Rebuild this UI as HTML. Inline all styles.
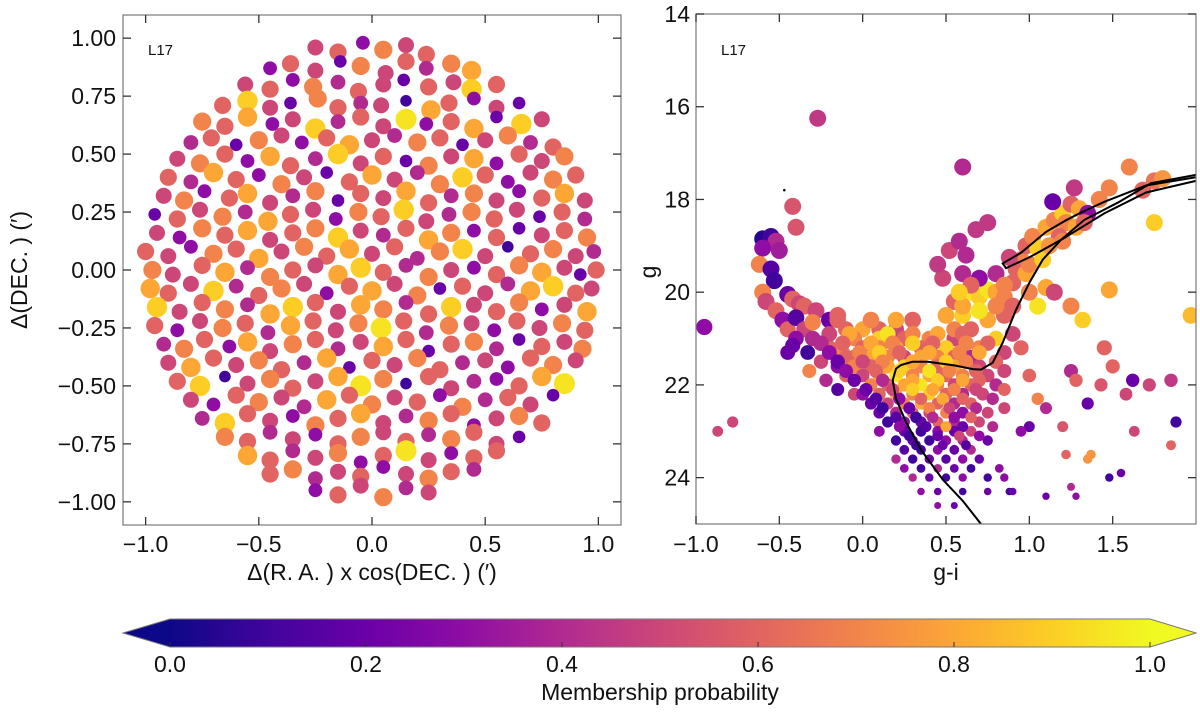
<!DOCTYPE html>
<html><head><meta charset="utf-8"><style>
html,body{margin:0;padding:0;background:#fff;}
svg{display:block;font-family:"Liberation Sans",sans-serif;}
</style></head><body>
<svg id="fig" width="1200" height="712" viewBox="0 0 1200 712" xmlns="http://www.w3.org/2000/svg">
<defs>
<linearGradient id="plasma" x1="0" x2="1" y1="0" y2="0">
<stop offset="0" stop-color="#0d0887"/><stop offset="0.1" stop-color="#41049d"/><stop offset="0.2" stop-color="#6a00a8"/><stop offset="0.3" stop-color="#8f0da4"/><stop offset="0.4" stop-color="#b12a90"/><stop offset="0.5" stop-color="#cc4778"/><stop offset="0.6" stop-color="#e16462"/><stop offset="0.7" stop-color="#f2844b"/><stop offset="0.8" stop-color="#fca636"/><stop offset="0.9" stop-color="#fcce25"/><stop offset="1" stop-color="#f0f921"/>
</linearGradient>
<clipPath id="clipL"><rect x="123" y="15" width="498" height="510"/></clipPath>
<clipPath id="clipR"><rect x="696" y="14" width="500" height="510"/></clipPath>
</defs>
<g id="left"></g>
<g id="right"></g>
<g id="cbar"></g>
</svg>
<script>
// ---------- Left panel data (RA offset, DEC offset, membership probability) ----------
const raOff = [
-.25,-.15,-.04,.05,.15,.24,
-.45,-.36,-.25,-.14,-.05,.06,.15,.24,.35,.44,
-.56,-.45,-.35,-.26,-.15,-.06,.05,.14,.25,.36,.44,.55,
-.66,-.55,-.45,-.36,-.24,-.15,-.05,.04,.15,.26,.34,.45,.55,.65,
-.75,-.65,-.55,-.44,-.35,-.25,-.15,-.05,.05,.15,.24,.35,.45,.55,.66,.75,
-.8,-.71,-.6,-.5,-.4,-.31,-.2,-.1,0,.1,.2,.3,.4,.5,.6,.7,.8,
-.86,-.76,-.65,-.55,-.45,-.36,-.25,-.15,-.05,.05,.15,.25,.35,.45,.55,.65,.75,.85,
-.9,-.8,-.7,-.6,-.5,-.4,-.3,-.2,-.1,0,.1,.2,.3,.4,.5,.6,.7,.8,.9,
-.92,-.83,-.74,-.63,-.55,-.45,-.35,-.25,-.15,-.05,.05,.15,.25,.35,.45,.55,.65,.75,.85,.94,
-.96,-.86,-.76,-.66,-.56,-.46,-.36,-.26,-.16,-.06,.04,.14,.24,.34,.44,.54,.64,.74,.84,.94,
-.95,-.85,-.75,-.65,-.55,-.45,-.35,-.25,-.15,-.05,.05,.15,.25,.35,.45,.55,.65,.75,.85,.95,
-1,-.9,-.8,-.7,-.6,-.5,-.4,-.3,-.2,-.1,0,.1,.2,.3,.4,.5,.6,.7,.8,.9,.98,
-.97,-.88,-.75,-.65,-.55,-.45,-.35,-.25,-.15,-.05,.05,.15,.25,.35,.45,.55,.65,.75,.85,.92,.99,
-.98,-.9,-.8,-.7,-.6,-.5,-.4,-.3,-.2,-.1,0,.1,.2,.3,.4,.5,.6,.7,.8,.9,.97,
-.95,-.85,-.75,-.65,-.55,-.45,-.35,-.25,-.15,-.05,.05,.15,.25,.35,.45,.55,.65,.75,.85,.95,
-.96,-.86,-.76,-.66,-.56,-.46,-.36,-.26,-.16,-.06,.04,.14,.24,.34,.44,.54,.64,.74,.84,.94,
-.92,-.83,-.74,-.63,-.55,-.45,-.35,-.25,-.15,-.05,.05,.15,.25,.35,.45,.55,.65,.75,.85,.93,
-.9,-.8,-.7,-.6,-.5,-.4,-.3,-.2,-.1,0,.1,.2,.3,.4,.5,.6,.7,.8,.9,
-.86,-.76,-.65,-.55,-.45,-.35,-.25,-.15,-.05,.05,.15,.25,.35,.45,.55,.65,.75,.85,
-.8,-.7,-.6,-.5,-.4,-.3,-.2,-.1,0,.1,.2,.3,.4,.5,.6,.7,.8,
-.75,-.65,-.55,-.45,-.35,-.25,-.15,-.05,.05,.15,.25,.35,.45,.55,.65,.75,
-.65,-.55,-.45,-.35,-.25,-.15,-.05,.05,.15,.25,.35,.45,.55,.65,
-.55,-.45,-.35,-.25,-.15,-.05,.05,.15,.25,.35,.45,.55,
-.45,-.35,-.25,-.15,-.05,.05,.15,.25,.35,.45,
-.25,-.15,-.05,.05,.15,.25];
const decOff = [
.96,.94,.98,.95,.97,.93,
.87,.89,.86,.9,.88,.85,.9,.87,.89,.86,
.8,.78,.82,.79,.81,.77,.8,.82,.79,.81,.78,.8,
.71,.73,.7,.72,.74,.7,.72,.71,.73,.69,.72,.74,.7,.72,
.64,.62,.66,.63,.65,.61,.64,.66,.62,.65,.63,.64,.61,.66,.63,.65,
.55,.57,.54,.56,.58,.55,.57,.54,.56,.58,.55,.57,.54,.56,.58,.55,.53,
.48,.46,.5,.47,.49,.45,.48,.5,.46,.49,.47,.45,.49,.48,.46,.5,.47,.49,
.4,.38,.42,.39,.41,.37,.4,.42,.38,.41,.39,.42,.37,.4,.41,.38,.42,.39,.41,
.32,.3,.34,.31,.33,.29,.32,.34,.3,.33,.31,.34,.29,.32,.33,.3,.34,.31,.33,.3,
.24,.22,.26,.23,.25,.21,.24,.26,.22,.25,.23,.26,.21,.24,.25,.22,.26,.23,.25,.22,
.16,.14,.18,.15,.17,.13,.16,.18,.14,.17,.15,.18,.13,.16,.17,.14,.18,.15,.17,.14,
.08,.06,.1,.07,.09,.05,.08,.1,.06,.09,.07,.1,.05,.08,.09,.06,.1,.07,.09,.06,.08,
0,-.02,.02,-.01,.01,-.03,0,.02,-.02,.01,-.01,.02,-.03,0,.01,-.02,.02,-.01,.01,-.02,0,
-.08,-.1,-.06,-.09,-.07,-.11,-.08,-.06,-.1,-.07,-.09,-.06,-.11,-.08,-.07,-.1,-.06,-.09,-.07,-.1,-.08,
-.16,-.18,-.14,-.17,-.15,-.19,-.16,-.14,-.18,-.15,-.17,-.14,-.19,-.16,-.15,-.18,-.14,-.17,-.15,-.18,
-.24,-.26,-.22,-.25,-.23,-.27,-.24,-.22,-.26,-.23,-.25,-.22,-.27,-.24,-.23,-.26,-.22,-.25,-.23,-.26,
-.32,-.34,-.3,-.33,-.31,-.35,-.32,-.3,-.34,-.31,-.33,-.3,-.35,-.32,-.31,-.34,-.3,-.33,-.31,-.34,
-.4,-.42,-.38,-.41,-.39,-.43,-.4,-.38,-.42,-.39,-.41,-.38,-.43,-.4,-.39,-.42,-.38,-.41,-.39,
-.48,-.5,-.46,-.49,-.47,-.51,-.48,-.46,-.5,-.47,-.49,-.46,-.51,-.48,-.47,-.5,-.46,-.49,
-.56,-.58,-.54,-.57,-.55,-.59,-.56,-.54,-.58,-.55,-.57,-.54,-.59,-.56,-.55,-.58,-.54,
-.64,-.66,-.62,-.65,-.63,-.67,-.64,-.62,-.66,-.63,-.65,-.62,-.67,-.64,-.63,-.66,
-.72,-.74,-.7,-.73,-.71,-.75,-.72,-.7,-.74,-.71,-.73,-.7,-.75,-.72,
-.8,-.82,-.78,-.81,-.79,-.83,-.8,-.78,-.82,-.79,-.81,-.78,
-.88,-.86,-.9,-.87,-.89,-.85,-.88,-.9,-.87,-.86,
-.95,-.97,-.93,-.98,-.94,-.96];
const probL = [
.5,.6,.3,.7,.5,.6,
.3,.6,.5,.2,.7,.5,.6,.4,.7,.8,
.5,.6,.3,.7,.4,.6,.5,.2,.6,.5,.9,.6,
.6,.9,.5,.2,.7,.6,.4,.5,.1,.8,.6,.3,.5,.2,
.7,.6,.8,.3,.5,.9,.4,.6,.5,.95,.3,.6,.8,.2,.9,.5,
.4,.6,.2,.7,.5,.3,.6,.8,.5,.4,.7,.6,.2,.5,.7,.4,.6,
.5,.7,.6,.3,.8,.6,.4,.9,.5,.6,.2,.7,.5,.8,.3,.6,.5,.7,
.6,.4,.8,.6,.3,.7,.5,.2,.6,.8,.5,.4,.7,.9,.6,.3,.5,.7,.6,
.5,.7,.3,.6,.8,.5,.4,.7,.2,.6,.5,.8,.6,.4,.7,.5,.3,.6,.8,.5,
.2,.6,.5,.7,.4,.8,.6,.5,.3,.7,.6,.9,.5,.4,.7,.6,.5,.2,.6,.4,
.5,.3,.7,.6,.8,.5,.6,.7,.9,.5,.4,.6,.8,.7,.3,.6,.2,.5,.6,.7,
.6,.5,.3,.7,.6,.8,.5,.7,.6,.8,.5,.6,.4,.7,.9,.5,.1,.6,.7,.5,.4,
.7,.5,.6,.8,.4,.7,.6,.5,.8,.9,.6,.4,.7,.5,.3,.6,.7,.8,.5,.2,.6,
.8,.6,.5,.9,.4,.6,.7,.5,.3,.6,.8,.5,.7,.2,.6,.5,.4,.8,.9,.6,.5,
.9,.5,.6,.7,.4,.8,.9,.6,.5,.8,.7,.4,.6,.9,.5,.6,.7,.3,.5,.8,
.6,.3,.5,.7,.6,.4,.8,.6,.5,.7,.95,.6,.4,.7,.5,.3,.6,.5,.7,.6,
.4,.7,.6,.3,.8,.5,.7,.6,.4,.5,.8,.6,.2,.6,.7,.4,.2,.6,.5,.7,
.5,.8,.6,.5,.7,.6,.4,.8,.2,.6,.5,.7,.6,.4,.5,.3,.6,.7,.5,
.6,.9,.1,.5,.7,.6,.5,.8,.95,.7,.1,.6,.5,.4,.3,.6,.8,.95,
.5,.3,.6,.7,.5,.4,.8,.6,.7,.5,.6,.3,.7,.4,.6,.5,.2,
.4,.9,.6,.5,.3,.7,.6,.8,.5,.4,.7,.6,.3,.5,.7,.6,
.7,.6,.4,.5,.3,.6,.7,.5,.6,.4,.7,.6,.5,.2,
.8,.6,.4,.5,.7,.3,.6,.95,.5,.3,.6,.6,
.6,.7,.4,.5,.6,.3,.5,.7,.6,.4,
.3,.6,.5,.7,.4,.5];

// ---------- Right panel data (g-i colour, g magnitude, probability) ----------
const giCol = [
-.6,-.55,-.52,-.6,-.5,-.62,-.55,-.53,-.45,-.42,-.38,-.35,-.28,-.6,-.58,-.52,-.48,-.45,-.4,-.35,-.3,-.25,-.2,-.12,-.05,-.4,-.33,-.25,-.15,-.1,-.2,-.15,-.05,-.1,-.3,-.42,-.32,-.22,-.15,-.05,
-.95,-.87,-.78,-.45,-.27,-.42,-.4,.6,
0,.1,.2, -.05,.1,.25,.4,.55, 0,.1,.2,.35,.5,.6, -.1,.05,.15,.25,.35,.45,.55,.65,
-.05,.05,.15,.25,.35,.45,.55,.7, 0,.1,.2,.3,.4,.5,.6,.75, .05,.15,.25,.35,.45,.55,.65,.8,
0,.1,.2,.3,.4,.5,.6,.72, .05,.15,.25,.35,.45,.55,.65, .1,.2,.3,.4,.5,.6,.75, .15,.25,.35,.45,.55,.7,
.1,.25,.35,.45,.55,.65, .2,.3,.4,.5,.6,.75, .25,.35,.45,.55,.65, .2,.3,.4,.5,.6,.7, .25,.35,.45,.55,.65,
.3,.4,.5,.6,.75,.85, .35,.45,.6,.75,.88, .45,.55,
.55,.6,.65,.7,.75,.8,.85,.6,.7,.8,.9,.55,.65,.75,.85,.9,.95,.7,.8,.48,.5,.45,.52,.58,.68,.75,.62,
.95,.98,1.02,1.05,1.1,1.15,1.2,1.22,1.25,1.18,1.3,1.35,1.42,1.48,1.6,1.68,1.75,1.8,1.27,1.14,1.75,1.1,1.05,1.0,1.15,1.32,1.48,1.25,1.97,
1.25,1.28,1.0,1.05,1.1,1.0,1.2,1.22,1.35,1.43,1.58,1.62,1.5,1.72,1.85,1.88,1.63,1.85,1.35,1.37,1.55,1.1,1.25,1.28,.9,.95,.82,1.45,1.48,
-.15,.05,.2,.3, -.2,-.08,.15,.3,.45,.6, -.25,-.12,.05,.18,.3,.42,.62,.75, -.2,-.02,.1,.22,.4,.58,.7,.85,
-.15,0,.12,.3,.5,.62,.8, -.1,.08,.22,.4,.52,.68,.85, -.05,.12,.3,.45,.6,.7, .02,.18,.3,.42,.55,.68,.85,
.08,.22,.35,.48,.6,.78, .12,.28,.4,.52,.68,.85, .2,.32,.42,.55,.65, .22,.38,.5,.6,.78, .28,.45,.58,.7, .32,.48,.62,
.6,.7,.8,.65,.58,.85,.9,.92,.98,1.0,.88,1.08,1.12,1.2,1.28,1.33];
const gMag = [
18.85,18.8,18.9,19.05,19.1,19.4,19.5,19.75,20.05,20.15,20.25,20.3,20.4,20.0,20.2,20.4,20.6,20.8,20.55,20.8,21.0,21.1,21.2,21.3,21.4,21.0,21.3,21.5,21.6,21.8,20.6,20.5,20.95,20.8,20.65,21.15,21.7,21.9,22.1,22.2,
20.75,23.0,22.8,21.3,16.25,18.15,18.6,17.3,
20.8,20.8,20.8, 21,21,21,21,21, 21.2,21.2,21.2,21.2,21.2,21.2, 21.4,21.4,21.4,21.4,21.4,21.4,21.4,21.4,
21.6,21.6,21.6,21.6,21.6,21.6,21.6,21.6, 21.8,21.8,21.8,21.8,21.8,21.8,21.8,21.8, 22,22,22,22,22,22,22,22,
22.2,22.2,22.2,22.2,22.2,22.2,22.2,22.2, 22.4,22.4,22.4,22.4,22.4,22.4,22.4, 22.6,22.6,22.6,22.6,22.6,22.6,22.6, 22.8,22.8,22.8,22.8,22.8,22.8,
23,23,23,23,23,23, 23.2,23.2,23.2,23.2,23.2,23.2, 23.4,23.4,23.4,23.4,23.4, 23.6,23.6,23.6,23.6,23.6,23.6, 23.8,23.8,23.8,23.8,23.8,
24,24,24,24,24,24, 24.3,24.3,24.3,24.3,24.3, 24.6,24.6,
20.2,20.5,20.0,20.1,19.95,20.0,20.1,19.6,19.7,19.6,19.8,20.8,20.8,20.6,20.5,20.9,21.2,21.2,21.0,19.7,20.5,19.4,19.1,18.9,18.65,18.5,19.2,
19.3,19.0,18.8,19.05,18.6,18.45,18.3,18.5,18.1,18.8,18.2,18.3,18.0,17.75,17.3,17.8,17.6,17.55,17.75,18.05,18.5,19.9,20.3,20.0,20.0,20.6,19.95,20.3,20.5,
21.7,21.9,21.8,22.3,22.5,22.9,22.9,23.5,22.4,22.0,22.2,21.9,21.6,22.0,21.9,22.8,23.0,23.3,23.6,23.5,23.9,24.4,24.2,24.4,24.3,23.0,23.8,21.2,24.0,
20.6,20.6,20.6,20.6, 20.9,20.9,20.9,20.9,20.9,20.9, 21.1,21.1,21.1,21.1,21.1,21.1,21.1,21.1, 21.3,21.3,21.3,21.3,21.3,21.3,21.3,21.3,
21.5,21.5,21.5,21.5,21.5,21.5,21.5, 21.7,21.7,21.7,21.7,21.7,21.7,21.7, 21.9,21.9,21.9,21.9,21.9,21.9, 22.1,22.1,22.1,22.1,22.1,22.1,22.1,
22.3,22.3,22.3,22.3,22.3,22.3, 22.5,22.5,22.5,22.5,22.5,22.5, 22.7,22.7,22.7,22.7,22.7, 22.9,22.9,22.9,22.9,22.9, 23.1,23.1,23.1,23.1, 23.3,23.3,23.3,
20.3,20.4,20.3,19.85,20.0,19.85,20.3,19.5,19.6,19.4,19.25,19.3,19.0,18.9,18.6,18.5];
const probR = [
.05,.1,.4,.3,.35,.7,.15,.1,.2,.6,.5,.6,.5,.7,.5,.6,.3,.6,.15,.5,.4,.2,.6,.7,.6,.3,.1,.5,.3,.6,.2,.6,.8,.6,.7,.2,.7,.4,.15,.5,
.3,.5,.5,.2,.45,.55,.55,.4,
.8,.6,.5, .7,.9,.6,.7,.5, .6,.7,.8,.6,.9,.5, .6,.8,.7,.5,.8,.7,.6,.4,
.7,.6,.8,.9,.7,.6,.8,.5, .5,.8,.95,.7,.8,.6,.7,.5, .7,.6,.8,.95,.7,.5,.6,.4,
.3,.6,.8,.7,.9,.6,.4,.5, .2,.5,.7,.8,.6,.4,.6, .2,.4,.6,.5,.7,.3,.5, .1,.3,.2,.6,.4,.5,
.3,.2,.1,.3,.2,.5, .1,.2,.1,.3,.4,.2, .15,.1,.3,.2,.4, .4,.1,.2,.15,.3,.2, .3,.1,.4,.2,.1,
.4,.2,.1,.3,.1,.3, .3,.2,.1,.2,.1, .3,.2,
.6,.9,.95,.9,.95,.8,.7,.4,.3,.4,.6,.7,.6,.8,.6,.5,.6,.7,.9,.5,.8,.45,.5,.4,.45,.45,.4,
.7,.6,.7,.9,.8,.7,.9,.7,.6,.6,.8,.3,.7,.7,.7,.6,.65,.75,.45,.2,.9,.8,.95,.7,.5,.9,.8,.7,.85,
.4,.6,.6,.7,.4,.2,.55,.6,.2,.55,.5,.2,.6,.5,.45,.1,.5,.6,.75,.75,.2,.2,.4,.3,.2,.3,.3,.6,.1,
.6,.7,.8,.6, .5,.8,.95,.7,.8,.6, .4,.6,.8,.7,.9,.6,.7,.6, .3,.7,.9,.6,.8,.7,.8,.5,
.2,.5,.7,.8,.9,.7,.6, .3,.6,.9,.95,.7,.6,.5, .2,.4,.8,.9,.8,.6, .2,.5,.9,.8,.7,.5,.6,
.15,.3,.6,.8,.6,.4, .1,.2,.7,.5,.4,.5, .15,.1,.4,.3,.6, .3,.15,.8,.2,.4, .1,.2,.5,.3, .1,.2,.15,
.8,.95,.7,.6,.9,.7,.6,.6,.8,.7,.5,.9,.75,.7,.8,.6];

// Isochrone (g-i, g)
const isoMS_gi = [.71,.6,.48,.35,.26,.2,.18,.2,.23,.3,.39,.55,.66,.71,.78,.84,.92,1.0,1.08,1.19,1.33,1.53,1.73,2.0];
const isoMS_g  = [25,24.5,24.04,23.4,22.8,22.3,21.9,21.65,21.57,21.5,21.5,21.58,21.66,21.67,21.52,21.09,20.38,19.8,19.3,18.87,18.44,18.07,17.65,17.47];
const isoHB_gi = [2.0,1.7,1.45,1.3,1.22,1.1,.95,.84,.86,1.0,1.2,1.45,1.7,2.0];
const isoHB_g  = [17.52,17.7,18.05,18.3,18.45,18.7,19.15,19.38,19.48,19.25,18.85,18.3,17.85,17.6];

const cbTicks = [0.0,0.2,0.4,0.6,0.8,1.0];
const leftXTicks = [-1.0,-0.5,0.0,0.5,1.0];
const leftYTicks = [1.0,0.75,0.5,0.25,0.0,-0.25,-0.5,-0.75,-1.0];
const rightXTicks = [-1.0,-0.5,0.0,0.5,1.0,1.5];
const rightYTicks = [14,16,18,20,22,24];

const NS = 'http://www.w3.org/2000/svg';
function mk(tag, attrs, parent){const e=document.createElementNS(NS,tag);for(const k in attrs)e.setAttribute(k,attrs[k]);parent.appendChild(e);return e;}
const stops=[[13,8,135],[65,4,157],[106,0,168],[143,13,164],[177,42,144],[204,71,120],[225,100,98],[242,132,75],[252,166,54],[252,206,37],[240,249,33]];
function plasma(p){p=Math.max(0,Math.min(1,p));const t=p*10,i=Math.min(9,Math.floor(t)),f=t-i;const a=stops[i],b=stops[i+1];return 'rgb('+a.map((v,k)=>Math.round(v+(b[k]-v)*f)).join(',')+')';}
function fmt(v,d){return (v<0?'\u2212':'')+Math.abs(v).toFixed(d);}

const Lx=v=>123+(v+1.1)/2.2*498, Ly=v=>15+(1.1-v)/2.2*510;
const Rx=v=>696+(v+1)/3*500, Ry=v=>14+(v-14)/11*510;

function frame(g,x0,y0,x1,y1){
  const r=mk('rect',{x:x0,y:y0,width:x1-x0,height:y1-y0,fill:'none',stroke:'#777','stroke-width':1.2},g);
  
  
}

// ---------- Left panel ----------
const L=document.getElementById('left');
const dl=mk('g',{'clip-path':'url(#clipL)'},L);


const nL=Math.min(raOff.length,decOff.length,probL.length);
for(let i=0;i<nL;i++){
  const c=mk('circle',{cx:Lx(raOff[i]).toFixed(1),cy:Ly(decOff[i]).toFixed(1),r:(5.2+5.6*probL[i]).toFixed(1),fill:plasma(probL[i])},dl);
  
  
}
frame(L,123,15,621,525);
leftXTicks.forEach(v=>{const x=Lx(v);
  mk('line',{x1:x,x2:x,y1:525,y2:517,stroke:'#333','stroke-width':1.3},L);
  mk('line',{x1:x,x2:x,y1:15,y2:23,stroke:'#333','stroke-width':1.3},L);
  const t=mk('text',{x:x,y:552,'font-size':23,'text-anchor':'middle',fill:'#111'},L);t.textContent=fmt(v,1);
  
  
});
leftYTicks.forEach(v=>{const y=Ly(v);
  mk('line',{x1:123,x2:131,y1:y,y2:y,stroke:'#333','stroke-width':1.3},L);
  mk('line',{x1:621,x2:613,y1:y,y2:y,stroke:'#333','stroke-width':1.3},L);
  const t=mk('text',{x:116,y:y+8,'font-size':23,'text-anchor':'end',fill:'#111'},L);t.textContent=fmt(v,2);
  
  
});
let t;
t=mk('text',{x:148,y:55,'font-size':15,fill:'#111'},L);t.textContent='L17';


t=mk('text',{x:372,y:580,'font-size':23,'text-anchor':'middle',fill:'#111'},L);t.textContent='\u0394(R. A. ) x cos(DEC. ) (\u2032)';


t=mk('text',{x:0,y:0,'font-size':23,'text-anchor':'middle',fill:'#111',transform:'translate(27,270) rotate(-90)'},L);t.textContent='\u0394(DEC. ) (\u2032)';



// ---------- Right panel ----------
const R=document.getElementById('right');
const dr=mk('g',{'clip-path':'url(#clipR)'},R);


const nR=Math.min(giCol.length,gMag.length,probR.length);
for(let i=0;i<nR;i++){
  const rad=Math.max(3.2,Math.min(8.5,3.6+(24.5-gMag[i])*1.2));
  const c=mk('circle',{cx:Rx(giCol[i]).toFixed(1),cy:Ry(gMag[i]).toFixed(1),r:rad.toFixed(1),fill:plasma(probR[i])},dr);
  
  
}
const dot=mk('circle',{cx:Rx(-0.47),cy:Ry(17.8),r:1.3,fill:'#000'},dr);


function pathFrom(xs,ys){return xs.map((v,i)=>(i?'L':'M')+Rx(v).toFixed(1)+','+Ry(ys[i]).toFixed(1)).join(' ');}
let p=mk('path',{d:pathFrom(isoMS_gi,isoMS_g),fill:'none',stroke:'#000','stroke-width':2},dr);


p=mk('path',{d:pathFrom(isoHB_gi,isoHB_g),fill:'none',stroke:'#000','stroke-width':2},dr);


frame(R,696,14,1196,524);
rightXTicks.forEach(v=>{const x=Rx(v);
  mk('line',{x1:x,x2:x,y1:524,y2:516,stroke:'#333','stroke-width':1.3},R);
  mk('line',{x1:x,x2:x,y1:14,y2:22,stroke:'#333','stroke-width':1.3},R);
  const t=mk('text',{x:x,y:552,'font-size':23,'text-anchor':'middle',fill:'#111'},R);t.textContent=fmt(v,1);
  
  
});
rightYTicks.forEach(v=>{const y=Ry(v);
  mk('line',{x1:696,x2:704,y1:y,y2:y,stroke:'#333','stroke-width':1.3},R);
  mk('line',{x1:1196,x2:1188,y1:y,y2:y,stroke:'#333','stroke-width':1.3},R);
  const t=mk('text',{x:690,y:y+8,'font-size':23,'text-anchor':'end',fill:'#111'},R);t.textContent=String(v);
  
  
});
t=mk('text',{x:721,y:55,'font-size':15,fill:'#111'},R);t.textContent='L17';


t=mk('text',{x:946,y:580,'font-size':23,'text-anchor':'middle',fill:'#111'},R);t.textContent='g-i';


t=mk('text',{x:0,y:0,'font-size':23,'text-anchor':'middle',fill:'#111',transform:'translate(656,272) rotate(-90)'},R);t.textContent='g';



// ---------- Colorbar ----------
const C=document.getElementById('cbar');
const cx=v=>170+v*980;
let e=mk('polygon',{points:'123,633 170,619 170,647',fill:'#0d0887'},C);


e=mk('polygon',{points:'1196,633 1150,619 1150,647',fill:'#f0f921'},C);


e=mk('rect',{x:169.5,y:619,width:981,height:28,fill:'url(#plasma)'},C);


mk('polygon',{points:'123,633 170,619 1150,619 1196,633 1150,647 170,647',fill:'none',stroke:'#777','stroke-width':1},C);
cbTicks.forEach(v=>{const x=cx(v);
  mk('line',{x1:x,x2:x,y1:647,y2:642,stroke:'#333','stroke-width':1},C);
  const t=mk('text',{x:x,y:672,'font-size':23,'text-anchor':'middle',fill:'#111'},C);t.textContent=v.toFixed(1);
  
  
});
t=mk('text',{x:660,y:700,'font-size':23,'text-anchor':'middle',fill:'#111'},C);t.textContent='Membership probability';


</script>
</body></html>
